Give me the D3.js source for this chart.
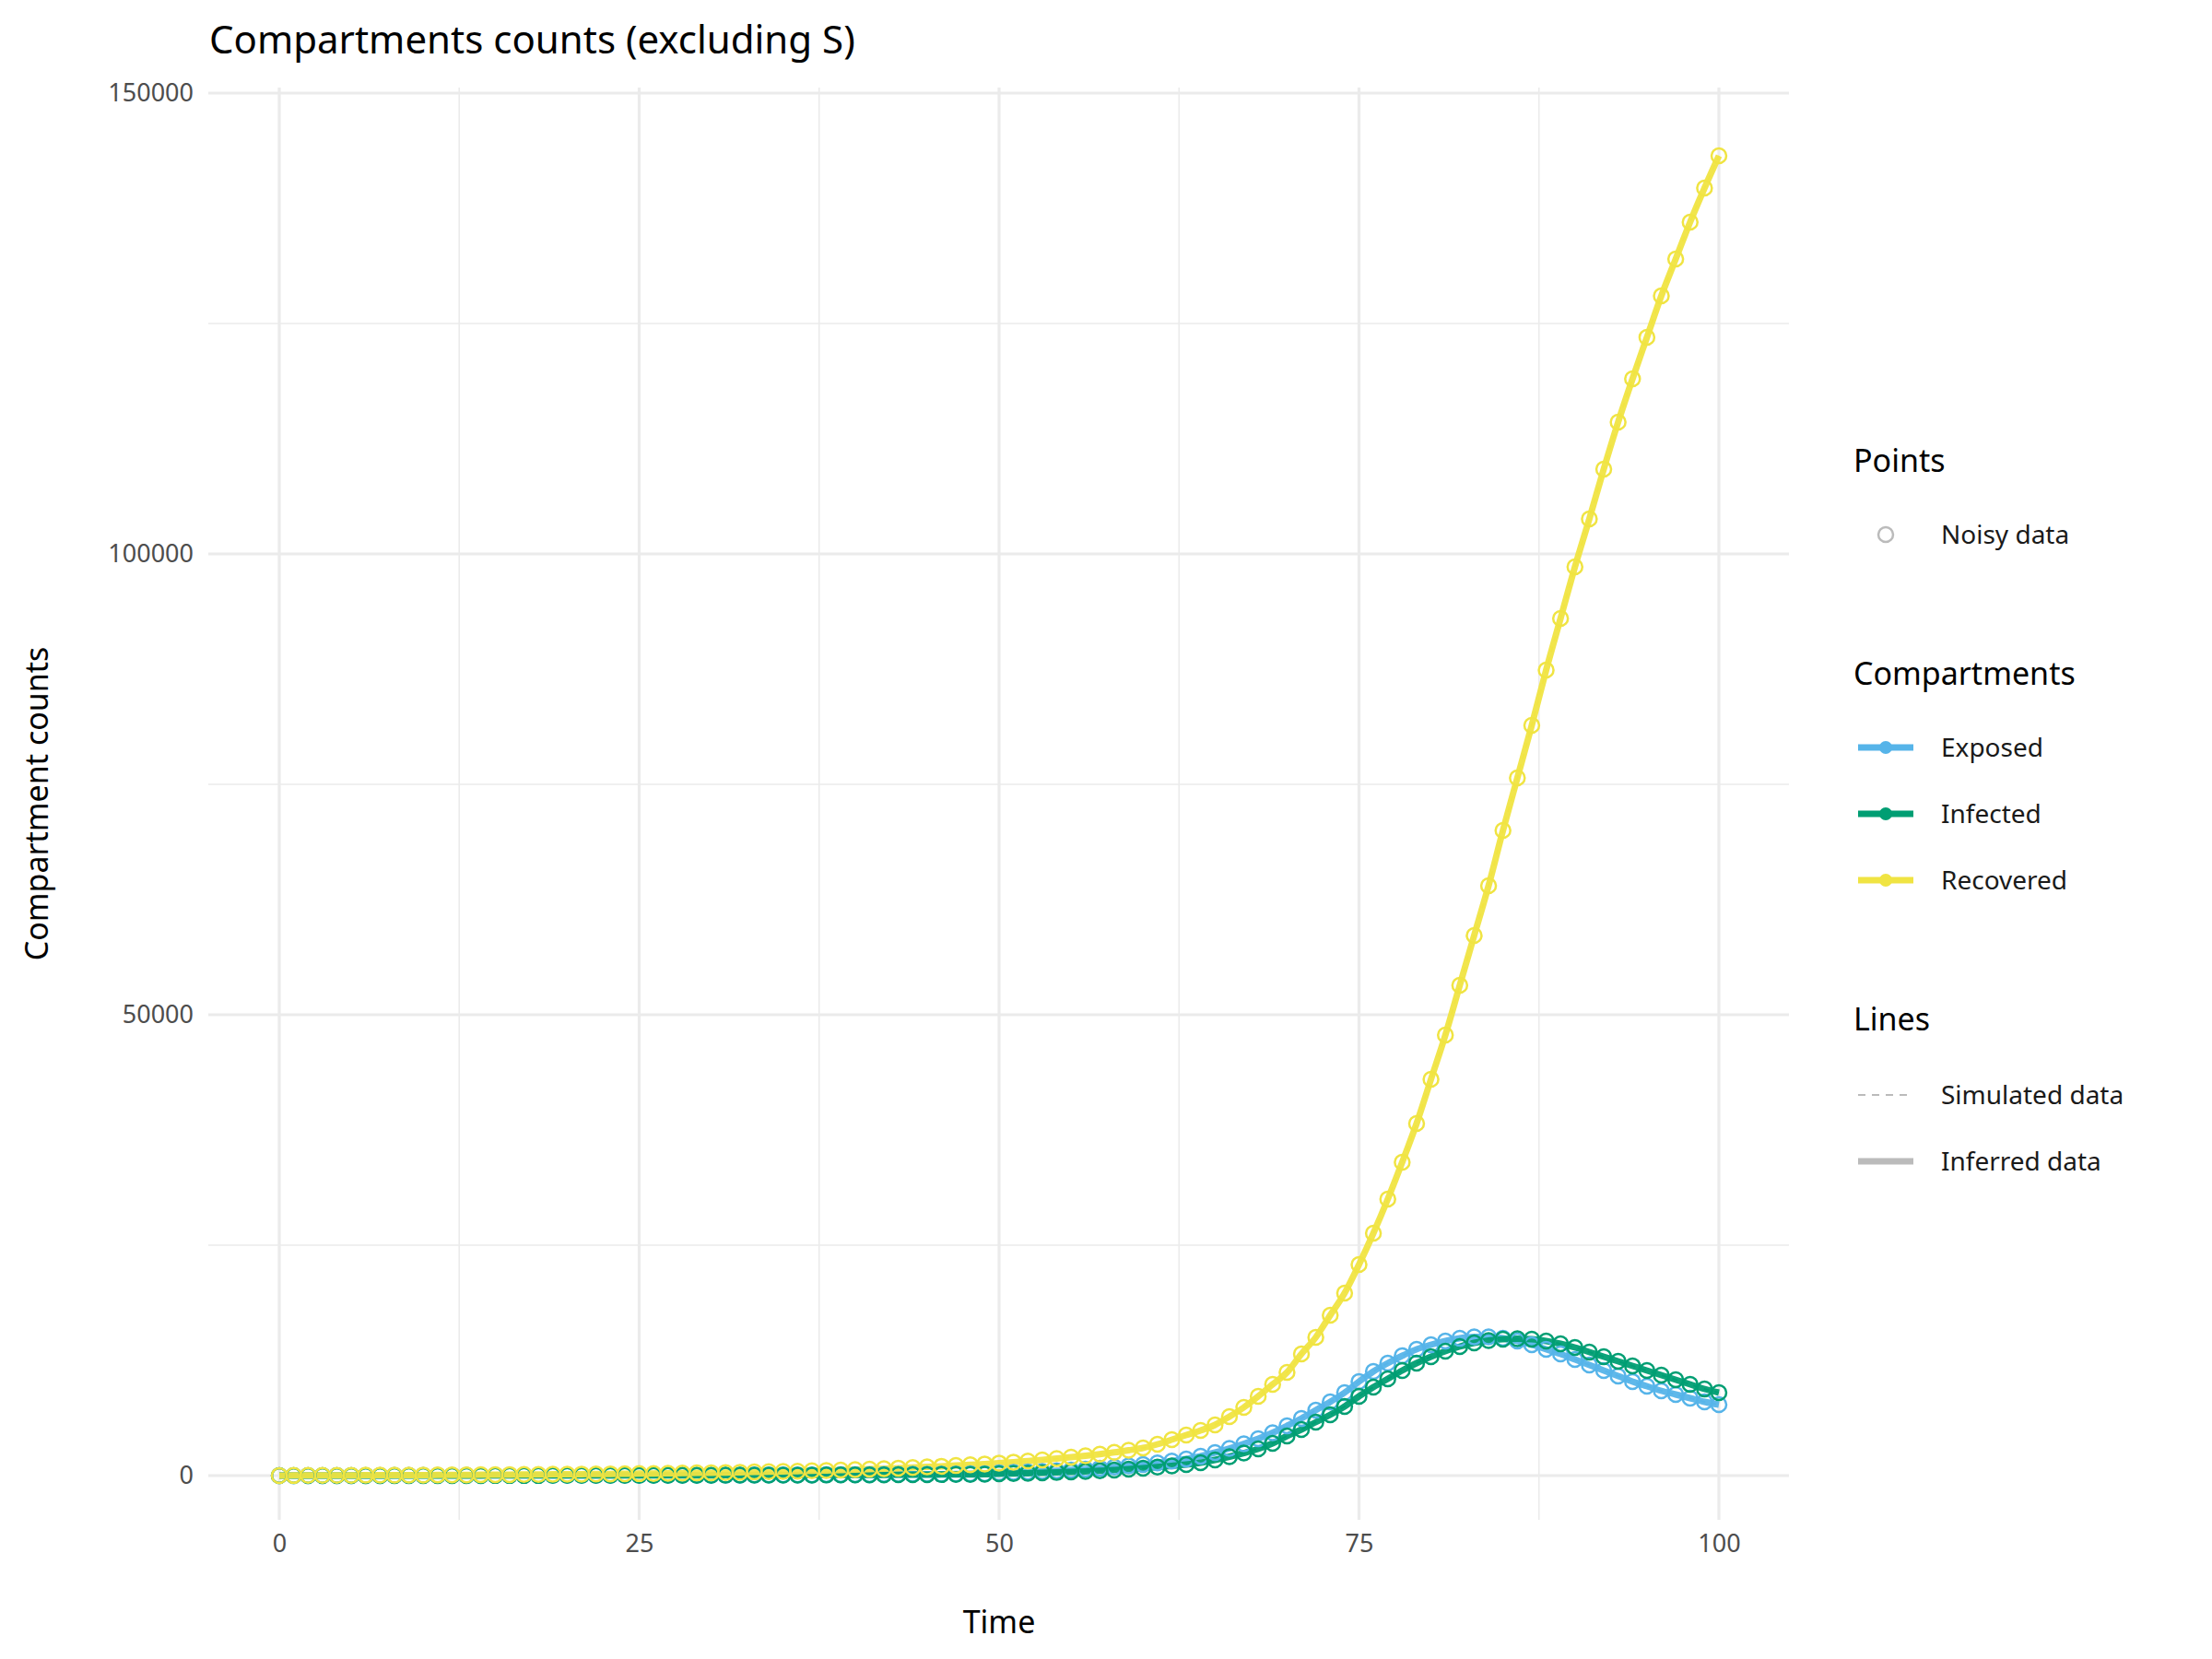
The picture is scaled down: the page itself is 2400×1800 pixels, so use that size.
<!DOCTYPE html>
<html><head><meta charset="utf-8">
<script src="https://cdn.jsdelivr.net/npm/d3@7"></script>
<style>body{margin:0;background:#fff;font-family:"Noto Sans",sans-serif;}</style>
</head><body><svg width="2400" height="1800"></svg>
<script>
// values, one per time step 0..100
var time = d3.range(0, 101);
var exposed = [5,6,7,8,9,10,11,12,13,14,15,16,17,18,19,20,22,24,26,28,30,
  32,34,36,38,40,43,46,49,52,55,58,62,66,70,75,80,86,92,98,105,
  112,120,130,140,150,162,175,190,210,300,
  340,390,450,520,600,700,810,930,1060,1200,
  1380,1580,1800,2100,2500,2950,3450,4000,4650,5400,
  6200,7100,8000,9000,10200,11300,12200,13000,13700,14200,
  14600,14900,15050,15050,14900,14600,14200,13700,13200,12600,
  12000,11400,10800,10200,9700,9200,8800,8400,8000,7700];
var infected = [3,4,4,5,5,6,6,7,7,8,8,9,10,11,12,13,14,15,16,17,18,
  19,20,22,24,26,28,30,32,34,36,39,42,45,48,52,56,60,65,70,75,
  80,86,92,99,106,114,122,131,150,200,
  230,260,300,340,400,460,530,610,700,800,
  920,1050,1200,1400,1700,2050,2450,2900,3500,4300,
  5000,5800,6600,7500,8600,9600,10500,11400,12200,12900,
  13500,14000,14400,14650,14800,14850,14800,14600,14300,13900,
  13400,12900,12400,11900,11400,10900,10400,9900,9400,9000];
var recovered = [10,15,20,25,30,35,40,45,50,55,60,65,70,80,90,100,110,120,130,140,150,
  160,170,185,200,215,230,250,270,290,310,335,360,390,420,450,480,520,560,600,650,
  700,750,810,870,940,1010,1090,1170,1260,1360,
  1460,1580,1700,1840,1990,2150,2330,2520,2750,3000,
  3400,3900,4400,4900,5500,6400,7400,8600,9900,11200,
  13200,15000,17400,19800,22900,26300,30000,34000,38200,43000,
  47800,53200,58600,64000,70000,75700,81400,87400,93000,98600,
  103800,109200,114300,119000,123500,128000,132000,136000,139700,143200];
var seriesNames = ["Exposed", "Infected", "Recovered"];
var seriesColors = ["#56B4E9", "#009E73", "#F0E442"];
var xTicks = [0, 25, 50, 75, 100];
var yTicks = [0, 50000, 100000, 150000];

var svg = d3.select("svg");
var pLeft = 226, pRight = 1941, pTop = 95, pBottom = 1649;

var x = d3.scaleLinear().domain([0, 100]).range([303, 1865]);
var y = d3.scaleLinear().domain([0, 150000]).range([1601, 101]);

// grid
var g = svg.append("g");
[12.5, 37.5, 62.5, 87.5].forEach(function (v) {
  g.append("line").attr("x1", x(v)).attr("x2", x(v)).attr("y1", pTop).attr("y2", pBottom)
    .attr("stroke", "#ebebeb").attr("stroke-width", 1.6);
});
[25000, 75000, 125000].forEach(function (v) {
  g.append("line").attr("x1", pLeft).attr("x2", pRight).attr("y1", y(v)).attr("y2", y(v))
    .attr("stroke", "#ebebeb").attr("stroke-width", 1.6);
});
xTicks.forEach(function (v) {
  g.append("line").attr("x1", x(v)).attr("x2", x(v)).attr("y1", pTop).attr("y2", pBottom)
    .attr("stroke", "#ebebeb").attr("stroke-width", 3.2);
});
yTicks.forEach(function (v) {
  g.append("line").attr("x1", pLeft).attr("x2", pRight).attr("y1", y(v)).attr("y2", y(v))
    .attr("stroke", "#ebebeb").attr("stroke-width", 3.2);
});

// axes (no domain line)
var xAxis = svg.append("g").attr("transform", "translate(0," + (pBottom + 2) + ")")
  .call(d3.axisBottom(x).tickValues(xTicks).tickSize(0).tickPadding(14));
var yAxis = svg.append("g").attr("transform", "translate(" + (pLeft - 2) + ",0)")
  .call(d3.axisLeft(y).tickValues(yTicks).tickSize(0).tickPadding(14).tickFormat(d3.format("d")));
[xAxis, yAxis].forEach(function (a) {
  a.select(".domain").remove();
  a.selectAll("text").attr("font-size", 27).attr("fill", "#4d4d4d").attr("font-family", "Noto Sans");
});

var data = [exposed, infected, recovered];
var line = d3.line().x(function (d, i) { return x(time[i]); }).y(function (d) { return y(d); })
  .curve(d3.curveMonotoneX);

// simulated (dashed) then inferred (solid) lines
data.forEach(function (s, k) {
  svg.append("path").attr("d", line(s)).attr("fill", "none")
    .attr("stroke", seriesColors[k]).attr("stroke-width", 2).attr("stroke-dasharray", "6,6");
});
data.forEach(function (s, k) {
  svg.append("path").attr("d", line(s)).attr("fill", "none")
    .attr("stroke", seriesColors[k]).attr("stroke-width", 7).attr("opacity", 0.95);
});
// noisy points
data.forEach(function (s, k) {
  svg.append("g").selectAll("circle").data(s).enter().append("circle")
    .attr("cx", function (d, i) { return x(time[i]); })
    .attr("cy", function (d) { return y(d); })
    .attr("r", 8).attr("fill", "none")
    .attr("stroke", seriesColors[k]).attr("stroke-width", 2.5);
});

// titles
svg.append("text").attr("x", 227).attr("y", 58).attr("font-size", 42).attr("fill", "#000")
  .text("Compartments counts (excluding S)");
svg.append("text").attr("x", x(50)).attr("y", 1772).attr("text-anchor", "middle")
  .attr("font-size", 34).text("Time");
svg.append("text").attr("transform", "translate(52," + ((pTop + pBottom) / 2) + ") rotate(-90)")
  .attr("text-anchor", "middle").attr("font-size", 34).text("Compartment counts");

// legend
var lg = svg.append("g").attr("font-family", "Noto Sans");
var kx = 2046, tx = 2106;
function title(t, yy) { lg.append("text").attr("x", 2011).attr("y", yy + 12).attr("font-size", 34).text(t); }
function label(t, yy) { lg.append("text").attr("x", tx).attr("y", yy + 10).attr("font-size", 28).attr("fill", "#1a1a1a").text(t); }
title("Points", 500);
lg.append("circle").attr("cx", kx).attr("cy", 580).attr("r", 8).attr("fill", "none")
  .attr("stroke", "#bbbbbb").attr("stroke-width", 2.5);
label("Noisy data", 580);
title("Compartments", 731);
[811, 883, 955].forEach(function (yy, k) {
  lg.append("line").attr("x1", kx - 30).attr("x2", kx + 30).attr("y1", yy).attr("y2", yy)
    .attr("stroke", seriesColors[k]).attr("stroke-width", 7);
  lg.append("circle").attr("cx", kx).attr("cy", yy).attr("r", 7).attr("fill", seriesColors[k]);
  label(seriesNames[k], yy);
});
title("Lines", 1106);
lg.append("line").attr("x1", kx - 30).attr("x2", kx + 30).attr("y1", 1188).attr("y2", 1188)
  .attr("stroke", "#bbbbbb").attr("stroke-width", 2).attr("stroke-dasharray", "8,7");
label("Simulated data", 1188);
lg.append("line").attr("x1", kx - 30).attr("x2", kx + 30).attr("y1", 1260).attr("y2", 1260)
  .attr("stroke", "#bbbbbb").attr("stroke-width", 7);
label("Inferred data", 1260);
</script></body></html>
